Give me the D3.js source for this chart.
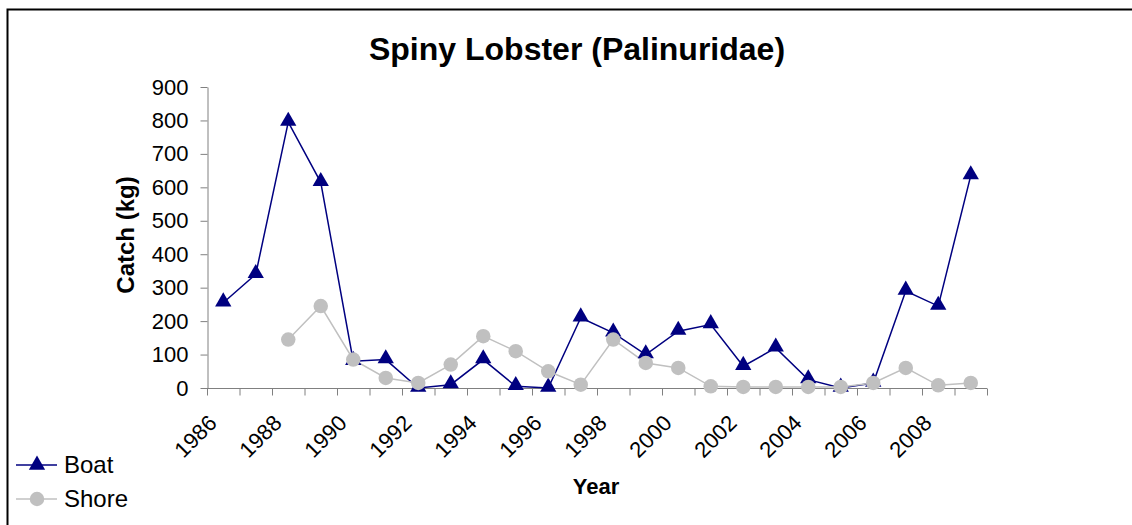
<!DOCTYPE html>
<html lang="en">
  <head>
    <title>Spiny Lobster (Palinuridae)</title>
    <meta charset="utf-8">
    <script src="https://d3js.org/d3.v7.min.js"></script>
    <style>
      body {
        margin: 0;
        background: #fff;
      }
      text {
        font-family: Arial, "Liberation Sans", sans-serif;
      }
    </style>
  </head>
  <body>
    <div id="main"></div>
    <script>
      var years = d3.range(1986, 2010);
      var tickLabels = ["1986", "1988", "1990", "1992", "1994", "1996", "1998", "2000", "2002", "2004", "2006", "2008"];
      var yTicks = [0, 100, 200, 300, 400, 500, 600, 700, 800, 900];
      var boat = [255, 340, 795, 615, 80, 85, 0, 10, 85, 5, 0, 210, 165, 100, 170, 190, 65, 120, 25, 0, 15, 290, 245, 635];
      var shore = [null, null, 145, 245, 85, 30, 15, 70, 155, 110, 50, 10, 145, 75, 60, 5, 3, 3, 3, 3, 15, 60, 8, 15];

      var width = 1132, height = 525;
      var svg = d3.select("#main").append("svg")
        .attr("width", width)
        .attr("height", height);

      // chart area border (only top and left visible)
      svg.append("path")
        .attr("d", "M7.5," + height + "V9.5H" + width)
        .attr("fill", "none")
        .attr("stroke", "#000")
        .attr("stroke-width", 2);

      var x = d3.scaleBand().domain(years).range([207, 987]);
      var y = d3.scaleLinear().domain([0, 900]).range([388, 87]);
      var cx = function(i) { return x(years[i]) + x.bandwidth() / 2; };

      // y axis
      var yAxis = svg.append("g")
        .attr("transform", "translate(207.5,0)")
        .call(d3.axisLeft(y).tickValues(yTicks).tickSize(7).tickPadding(12).tickSizeOuter(0));
      yAxis.select(".domain").attr("stroke", "#808080");
      yAxis.selectAll(".tick line").attr("stroke", "#808080");
      yAxis.selectAll(".tick text")
        .attr("font-size", "22px")
        .attr("fill", "#000");

      // x axis: ticks between categories
      var xAxisG = svg.append("g").attr("transform", "translate(0,388.5)");
      xAxisG.append("line")
        .attr("x1", 207).attr("x2", 987)
        .attr("stroke", "#808080");
      xAxisG.selectAll(".xtick").data(years.concat([2010])).enter().append("line")
        .attr("class", "xtick")
        .attr("x1", function(d) { return (d === 2010 ? 987 : x(d)) + 0.5; })
        .attr("x2", function(d) { return (d === 2010 ? 987 : x(d)) + 0.5; })
        .attr("y1", 0).attr("y2", 7)
        .attr("stroke", "#808080");
      xAxisG.selectAll(".xlabel").data(tickLabels).enter().append("text")
        .attr("class", "xlabel")
        .attr("text-anchor", "end")
        .attr("font-size", "22px")
        .attr("transform", function(d) {
          var px = x(+d) + x.bandwidth() / 2 - 16;
          return "translate(" + px + ",25) rotate(-45)";
        })
        .attr("dy", "0.7em")
        .text(function(d) { return d; });

      // lines
      var lineGen = d3.line()
        .defined(function(d) { return d != null; })
        .x(function(d, i) { return cx(i); })
        .y(function(d) { return y(d); });

      svg.append("path").datum(boat)
        .attr("d", lineGen)
        .attr("fill", "none")
        .attr("stroke", "#000080")
        .attr("stroke-width", 1.5);
      svg.append("path").datum(shore)
        .attr("d", lineGen)
        .attr("fill", "none")
        .attr("stroke", "#c0c0c0")
        .attr("stroke-width", 1.5);

      var tri = d3.symbol().type(d3.symbolTriangle).size(115);
      var circ = d3.symbol().type(d3.symbolCircle).size(165);

      svg.selectAll(".boat").data(boat).enter().append("path")
        .attr("class", "boat")
        .attr("d", tri)
        .attr("fill", "#000080")
        .attr("transform", function(d, i) {
          return "translate(" + cx(i) + "," + (y(d) - 1) + ")";
        });
      shore.forEach(function(d, i) {
        if (d == null) return;
        svg.append("path")
          .attr("class", "shore")
          .attr("d", circ)
          .attr("fill", "#c0c0c0")
          .attr("transform", "translate(" + cx(i) + "," + y(d) + ")");
      });

      // titles
      svg.append("text")
        .attr("x", 577).attr("y", 60)
        .attr("text-anchor", "middle")
        .attr("font-size", "32px")
        .attr("font-weight", "bold")
        .text("Spiny Lobster (Palinuridae)");
      svg.append("text")
        .attr("transform", "translate(134,235) rotate(-90)")
        .attr("text-anchor", "middle")
        .attr("font-size", "24px")
        .attr("font-weight", "bold")
        .text("Catch (kg)");
      svg.append("text")
        .attr("x", 596).attr("y", 494)
        .attr("text-anchor", "middle")
        .attr("font-size", "22px")
        .attr("font-weight", "bold")
        .text("Year");

      // legend
      var legend = svg.append("g");
      var items = [
        { name: "Boat", color: "#000080", sym: tri, y: 465 },
        { name: "Shore", color: "#c0c0c0", sym: circ, y: 499 }
      ];
      items.forEach(function(it) {
        legend.append("line")
          .attr("x1", 16).attr("x2", 57)
          .attr("y1", it.y).attr("y2", it.y)
          .attr("stroke", it.color)
          .attr("stroke-width", 1.5);
        legend.append("path")
          .attr("d", it.sym)
          .attr("fill", it.color)
          .attr("transform", "translate(37," + it.y + ")");
        legend.append("text")
          .attr("x", 64).attr("y", it.y + 8)
          .attr("font-size", "24px")
          .text(it.name);
      });
    </script>
  </body>
</html>
